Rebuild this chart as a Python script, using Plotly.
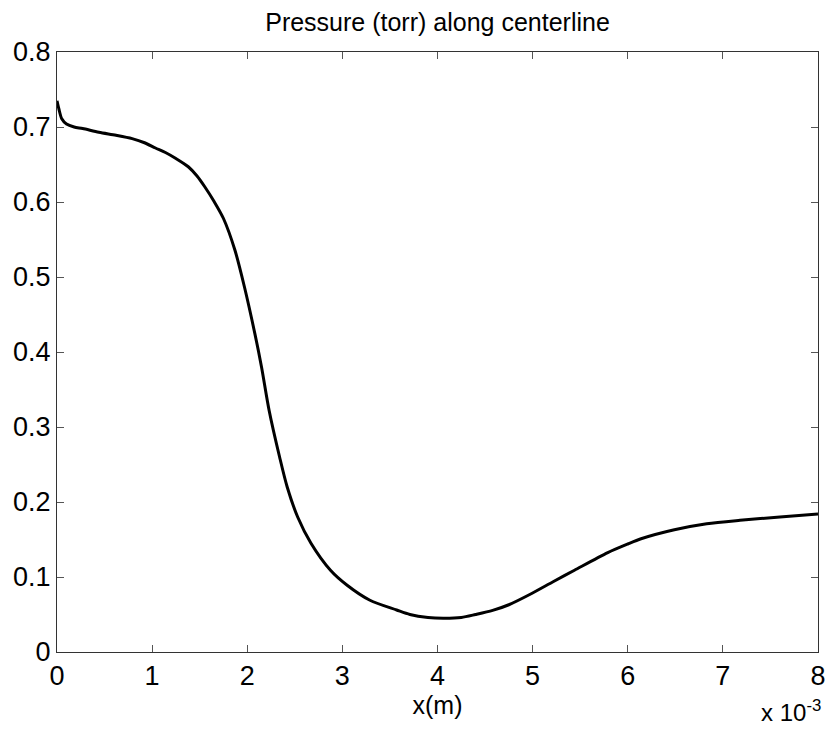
import plotly.graph_objects as go

# x position in units of 1e-3 m, pressure in torr
x_e3 = [0.0, 0.02, 0.05, 0.1, 0.18, 0.27, 0.44, 0.62, 0.79, 0.92, 1.035, 1.14, 1.25,
        1.38, 1.47, 1.555, 1.65, 1.75, 1.87, 1.97, 2.08, 2.15, 2.23, 2.34, 2.42,
        2.53, 2.67, 2.875, 3.05, 3.29, 3.57, 3.71, 3.9, 4.06, 4.25, 4.40, 4.58,
        4.75, 4.99, 5.22, 5.44, 5.79, 6.0, 6.14, 6.49, 6.83, 7.18, 7.6, 8.0]
pressure = [0.735, 0.724, 0.711, 0.704, 0.700, 0.698, 0.693, 0.689, 0.6845, 0.679,
            0.672, 0.666, 0.658, 0.647, 0.635, 0.620, 0.601, 0.578, 0.536, 0.487,
            0.4245, 0.380, 0.322, 0.260, 0.220, 0.180, 0.145, 0.109, 0.089, 0.069,
            0.056, 0.050, 0.046, 0.045, 0.046, 0.050, 0.0555, 0.063, 0.078, 0.094,
            0.109, 0.1325, 0.144, 0.151, 0.163, 0.171, 0.1756, 0.180, 0.184]
xticks = [0, 1, 2, 3, 4, 5, 6, 7, 8]
yticks = [0, 0.1, 0.2, 0.3, 0.4, 0.5, 0.6, 0.7, 0.8]
ytick_text = ["0", "0.1", "0.2", "0.3", "0.4", "0.5", "0.6", "0.7", "0.8"]

FONT = "Liberation Sans, Arial, sans-serif"

fig = go.Figure(go.Scatter(x=x_e3, y=pressure, mode="lines",
                           line=dict(color="black", width=3, shape="spline", smoothing=0.8),
                           showlegend=False))

axis_common = dict(showline=True, mirror="ticks", linecolor="#333", linewidth=1,
                   ticks="inside", ticklen=7, tickcolor="#555", tickwidth=1,
                   showgrid=False, zeroline=False,
                   tickfont=dict(family=FONT, size=27, color="black"))

fig.update_xaxes(range=[0, 8], tickvals=xticks, ticktext=[str(t) for t in xticks],
                 title=dict(text="x(m)", font=dict(family=FONT, size=25, color="black"), standoff=2),
                 **axis_common)
fig.update_yaxes(range=[0, 0.8], tickvals=yticks, ticktext=ytick_text, **axis_common)

fig.update_layout(
    width=837, height=730,
    margin=dict(l=57, r=11, t=52, b=78),
    paper_bgcolor="white", plot_bgcolor="white",
    title=dict(text="Pressure (torr) along centerline", x=0.5, xanchor="center",
               xref="paper", y=1 - 22 / 730, yanchor="middle",
               font=dict(family=FONT, size=25, color="black")),
    annotations=[dict(text="x 10<sup>-3</sup>", xref="paper", yref="paper",
                      x=1.006, y=0, xanchor="right", yanchor="top", yshift=-42,
                      showarrow=False, font=dict(family=FONT, size=24, color="black"))],
)

fig.write_html("out.html")
